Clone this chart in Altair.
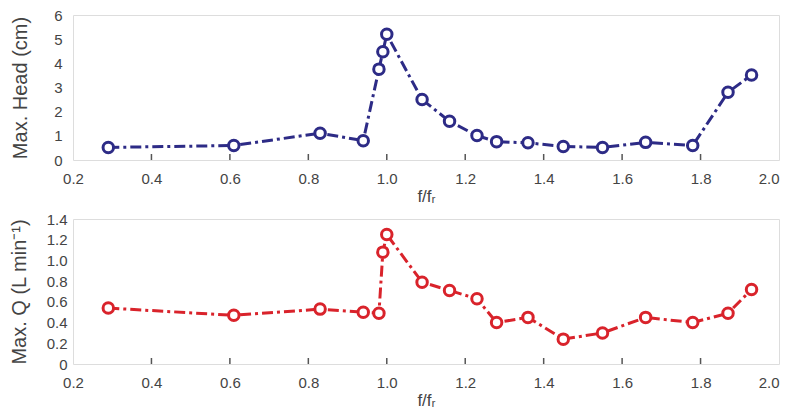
import altair as alt
import pandas as pd

# data
ratio = [0.29, 0.61, 0.83, 0.94, 0.98, 0.99, 1.00, 1.09, 1.16, 1.23, 1.28,
         1.36, 1.45, 1.55, 1.66, 1.78, 1.87, 1.93]
head = [0.52, 0.60, 1.11, 0.80, 3.76, 4.48, 5.20, 2.50, 1.60, 1.01, 0.76,
        0.71, 0.56, 0.52, 0.73, 0.60, 2.80, 3.52]
flow = [0.54, 0.47, 0.53, 0.50, 0.49, 1.08, 1.25, 0.79, 0.71, 0.63, 0.40,
        0.45, 0.24, 0.30, 0.45, 0.40, 0.49, 0.72]
x_ticks = [0.2, 0.4, 0.6, 0.8, 1.0, 1.2, 1.4, 1.6, 1.8, 2.0]
head_ticks = [0, 1, 2, 3, 4, 5, 6]
flow_ticks = [0, 0.2, 0.4, 0.6, 0.8, 1.0, 1.2, 1.4]

W, H = 706, 145
NAVY = "#2d2b86"
RED = "#d9232b"
AX = "#444444"
FONT = "Liberation Sans"

df = pd.DataFrame({"ratio": ratio, "head": head, "flow": flow})
tick_df = pd.DataFrame({"t": x_ticks[1:-1]})

x_title = "f/fᵣ"


def panel(field, color, ydomain, yticks, ytitle, lab_pad, title_pad, yfmt):
    xs = alt.Scale(domain=[0.2, 2.0], nice=False, zero=False)
    ys = alt.Scale(domain=ydomain, nice=False, zero=False)
    xaxis = alt.Axis(values=x_ticks, format=".1f", title=x_title, ticks=False,
                     domain=False, grid=False, labelPadding=11, labelFontSize=15,
                     labelColor=AX, titleFontSize=17, titleFontWeight="normal",
                     titleColor=AX, titlePadding=2, labelFont=FONT, titleFont=FONT,
                     labelOverlap=False, labelFlush=False, tickCount=10,
                     labelAlign=alt.ExprRef(expr="datum.value >= 2 ? 'right' : 'center'"))
    yaxis = alt.Axis(values=yticks, title=ytitle, ticks=False, domain=False, grid=False,
                     labelExpr=f"datum.value == 0 ? '0' : format(datum.value, '{yfmt}')",
                     labelPadding=lab_pad, labelFontSize=15, labelColor=AX,
                     titleFontSize=20, titleFontWeight="normal", titleColor=AX,
                     titlePadding=title_pad, labelFont=FONT, titleFont=FONT,
                     labelOverlap=False, labelFlush=False, tickCount=len(yticks))
    X = alt.X("ratio:Q", scale=xs, axis=xaxis, title=x_title)
    Y = alt.Y(f"{field}:Q", scale=ys, axis=yaxis, title=ytitle)
    base = alt.Chart(df).encode(x=X, y=Y)
    line = base.mark_line(color=color, strokeWidth=3, strokeDash=[11, 4, 3, 4])
    pts = base.mark_point(shape="circle", size=110, filled=False, fill="white",
                          fillOpacity=1, stroke=color, strokeWidth=3, opacity=1)
    ticks = alt.Chart(tick_df).mark_rule(color="#555555", strokeWidth=1.5).encode(
        x=alt.X("t:Q", scale=xs, axis=xaxis, title=x_title),
        y=alt.value(H - 6),
        y2=alt.value(H),
    )
    return alt.layer(line, pts, ticks).properties(width=W, height=H)


top = panel("head", NAVY, [0, 6], head_ticks, "Max. Head (cm)", 11, 23, "d")
bottom = panel("flow", RED, [0, 1.4], flow_ticks, "Max. Q (L min⁻¹)", 6, 17, ".1f")

chart = alt.vconcat(top, bottom, spacing=6).properties(
    padding={"left": 0, "top": -1, "right": 1, "bottom": 0}
).configure_view(stroke="#555555", strokeWidth=2).configure(background="white")

chart.save("out.html", embed_options={"renderer": "svg", "actions": False})
